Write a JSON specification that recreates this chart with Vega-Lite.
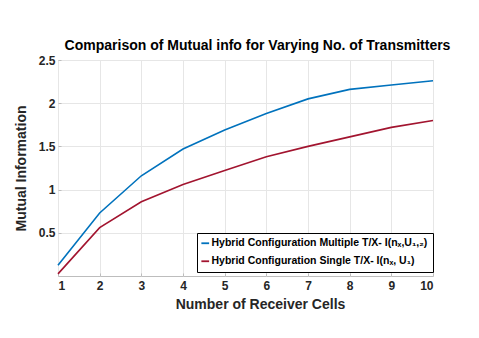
{
  "$schema": "https://vega.github.io/schema/vega-lite/v6.json",
  "autosize": "none",
  "width": 375,
  "height": 216,
  "padding": {"left": 58, "top": 60, "right": 46, "bottom": 62},
  "background": "white",
  "title": {
    "text": "Comparison of Mutual info for Varying No. of Transmitters",
    "font": "Liberation Sans",
    "fontSize": 14,
    "fontWeight": "bold",
    "color": "#000000",
    "anchor": "middle",
    "offset": 1,
    "dx": 12
  },
  "config": {
    "view": {"stroke": "#bdbdbd", "strokeWidth": 1},
    "font": "Liberation Sans"
  },
  "data": {
    "values": [
      {"x": 1, "y": 0.125, "s": "Hybrid Configuration Multiple T/X- I(nₓ,U₁,₂)"},
      {"x": 2, "y": 0.73, "s": "Hybrid Configuration Multiple T/X- I(nₓ,U₁,₂)"},
      {"x": 3, "y": 1.16, "s": "Hybrid Configuration Multiple T/X- I(nₓ,U₁,₂)"},
      {"x": 4, "y": 1.47, "s": "Hybrid Configuration Multiple T/X- I(nₓ,U₁,₂)"},
      {"x": 5, "y": 1.69, "s": "Hybrid Configuration Multiple T/X- I(nₓ,U₁,₂)"},
      {"x": 6, "y": 1.88, "s": "Hybrid Configuration Multiple T/X- I(nₓ,U₁,₂)"},
      {"x": 7, "y": 2.05, "s": "Hybrid Configuration Multiple T/X- I(nₓ,U₁,₂)"},
      {"x": 8, "y": 2.16, "s": "Hybrid Configuration Multiple T/X- I(nₓ,U₁,₂)"},
      {"x": 9, "y": 2.21, "s": "Hybrid Configuration Multiple T/X- I(nₓ,U₁,₂)"},
      {"x": 10, "y": 2.26, "s": "Hybrid Configuration Multiple T/X- I(nₓ,U₁,₂)"},
      {"x": 1, "y": 0.025, "s": "Hybrid Configuration Single T/X- I(nₓ, U₁)"},
      {"x": 2, "y": 0.56, "s": "Hybrid Configuration Single T/X- I(nₓ, U₁)"},
      {"x": 3, "y": 0.86, "s": "Hybrid Configuration Single T/X- I(nₓ, U₁)"},
      {"x": 4, "y": 1.06, "s": "Hybrid Configuration Single T/X- I(nₓ, U₁)"},
      {"x": 5, "y": 1.22, "s": "Hybrid Configuration Single T/X- I(nₓ, U₁)"},
      {"x": 6, "y": 1.38, "s": "Hybrid Configuration Single T/X- I(nₓ, U₁)"},
      {"x": 7, "y": 1.50, "s": "Hybrid Configuration Single T/X- I(nₓ, U₁)"},
      {"x": 8, "y": 1.61, "s": "Hybrid Configuration Single T/X- I(nₓ, U₁)"},
      {"x": 9, "y": 1.72, "s": "Hybrid Configuration Single T/X- I(nₓ, U₁)"},
      {"x": 10, "y": 1.80, "s": "Hybrid Configuration Single T/X- I(nₓ, U₁)"}
    ]
  },
  "mark": {"type": "line", "strokeWidth": 1.6},
  "encoding": {
    "x": {
      "field": "x",
      "type": "quantitative",
      "scale": {"domain": [1, 10], "nice": false, "zero": false},
      "axis": {
        "title": "Number of Receiver Cells",
        "values": [1, 2, 3, 4, 5, 6, 7, 8, 9, 10],
        "format": "d",
        "grid": true,
        "gridColor": "#e6e6e6",
        "domain": false,
        "ticks": true,
        "tickSize": -3,
        "tickColor": "#bdbdbd",
        "labelFont": "Liberation Sans",
        "labelFontSize": 12,
        "labelFontWeight": "bold",
        "labelColor": "#262626",
        "labelPadding": 7,
        "titleFont": "Liberation Sans",
        "titleFontSize": 14,
        "titleFontWeight": "bold",
        "titleColor": "#262626",
        "titleX": 202,
        "titleY": 32,
        "titleBaseline": "alphabetic",
        "titleAnchor": "middle",
        "titleAlign": "center"
      }
    },
    "y": {
      "field": "y",
      "type": "quantitative",
      "scale": {"domain": [0, 2.5], "nice": false},
      "axis": {
        "title": "Mutual Information",
        "values": [0.5, 1, 1.5, 2, 2.5],
        "format": "~g",
        "grid": true,
        "gridColor": "#e6e6e6",
        "domain": false,
        "ticks": true,
        "tickSize": -3,
        "tickColor": "#bdbdbd",
        "labelFont": "Liberation Sans",
        "labelFontSize": 12,
        "labelFontWeight": "bold",
        "labelColor": "#262626",
        "labelPadding": 6,
        "titleFont": "Liberation Sans",
        "titleFontSize": 14,
        "titleFontWeight": "bold",
        "titleColor": "#262626",
        "titlePadding": 10
      }
    },
    "color": {
      "field": "s",
      "type": "nominal",
      "scale": {"range": ["#0072BD", "#A2142F"]},
      "legend": {
        "title": null,
        "orient": "none",
        "legendX": 139,
        "legendY": 173,
        "fillColor": "white",
        "strokeColor": "#000000",
        "padding": 5,
        "symbolType": "stroke",
        "symbolSize": 60,
        "symbolStrokeWidth": 1.8,
        "symbolOffset": -2,
        "labelOffset": 1,
        "labelFont": "Liberation Sans",
        "labelFontSize": 10.5,
        "labelFontWeight": "bold",
        "labelColor": "#000000",
        "labelLimit": 300,
        "rowPadding": 7
      }
    }
  }
}
